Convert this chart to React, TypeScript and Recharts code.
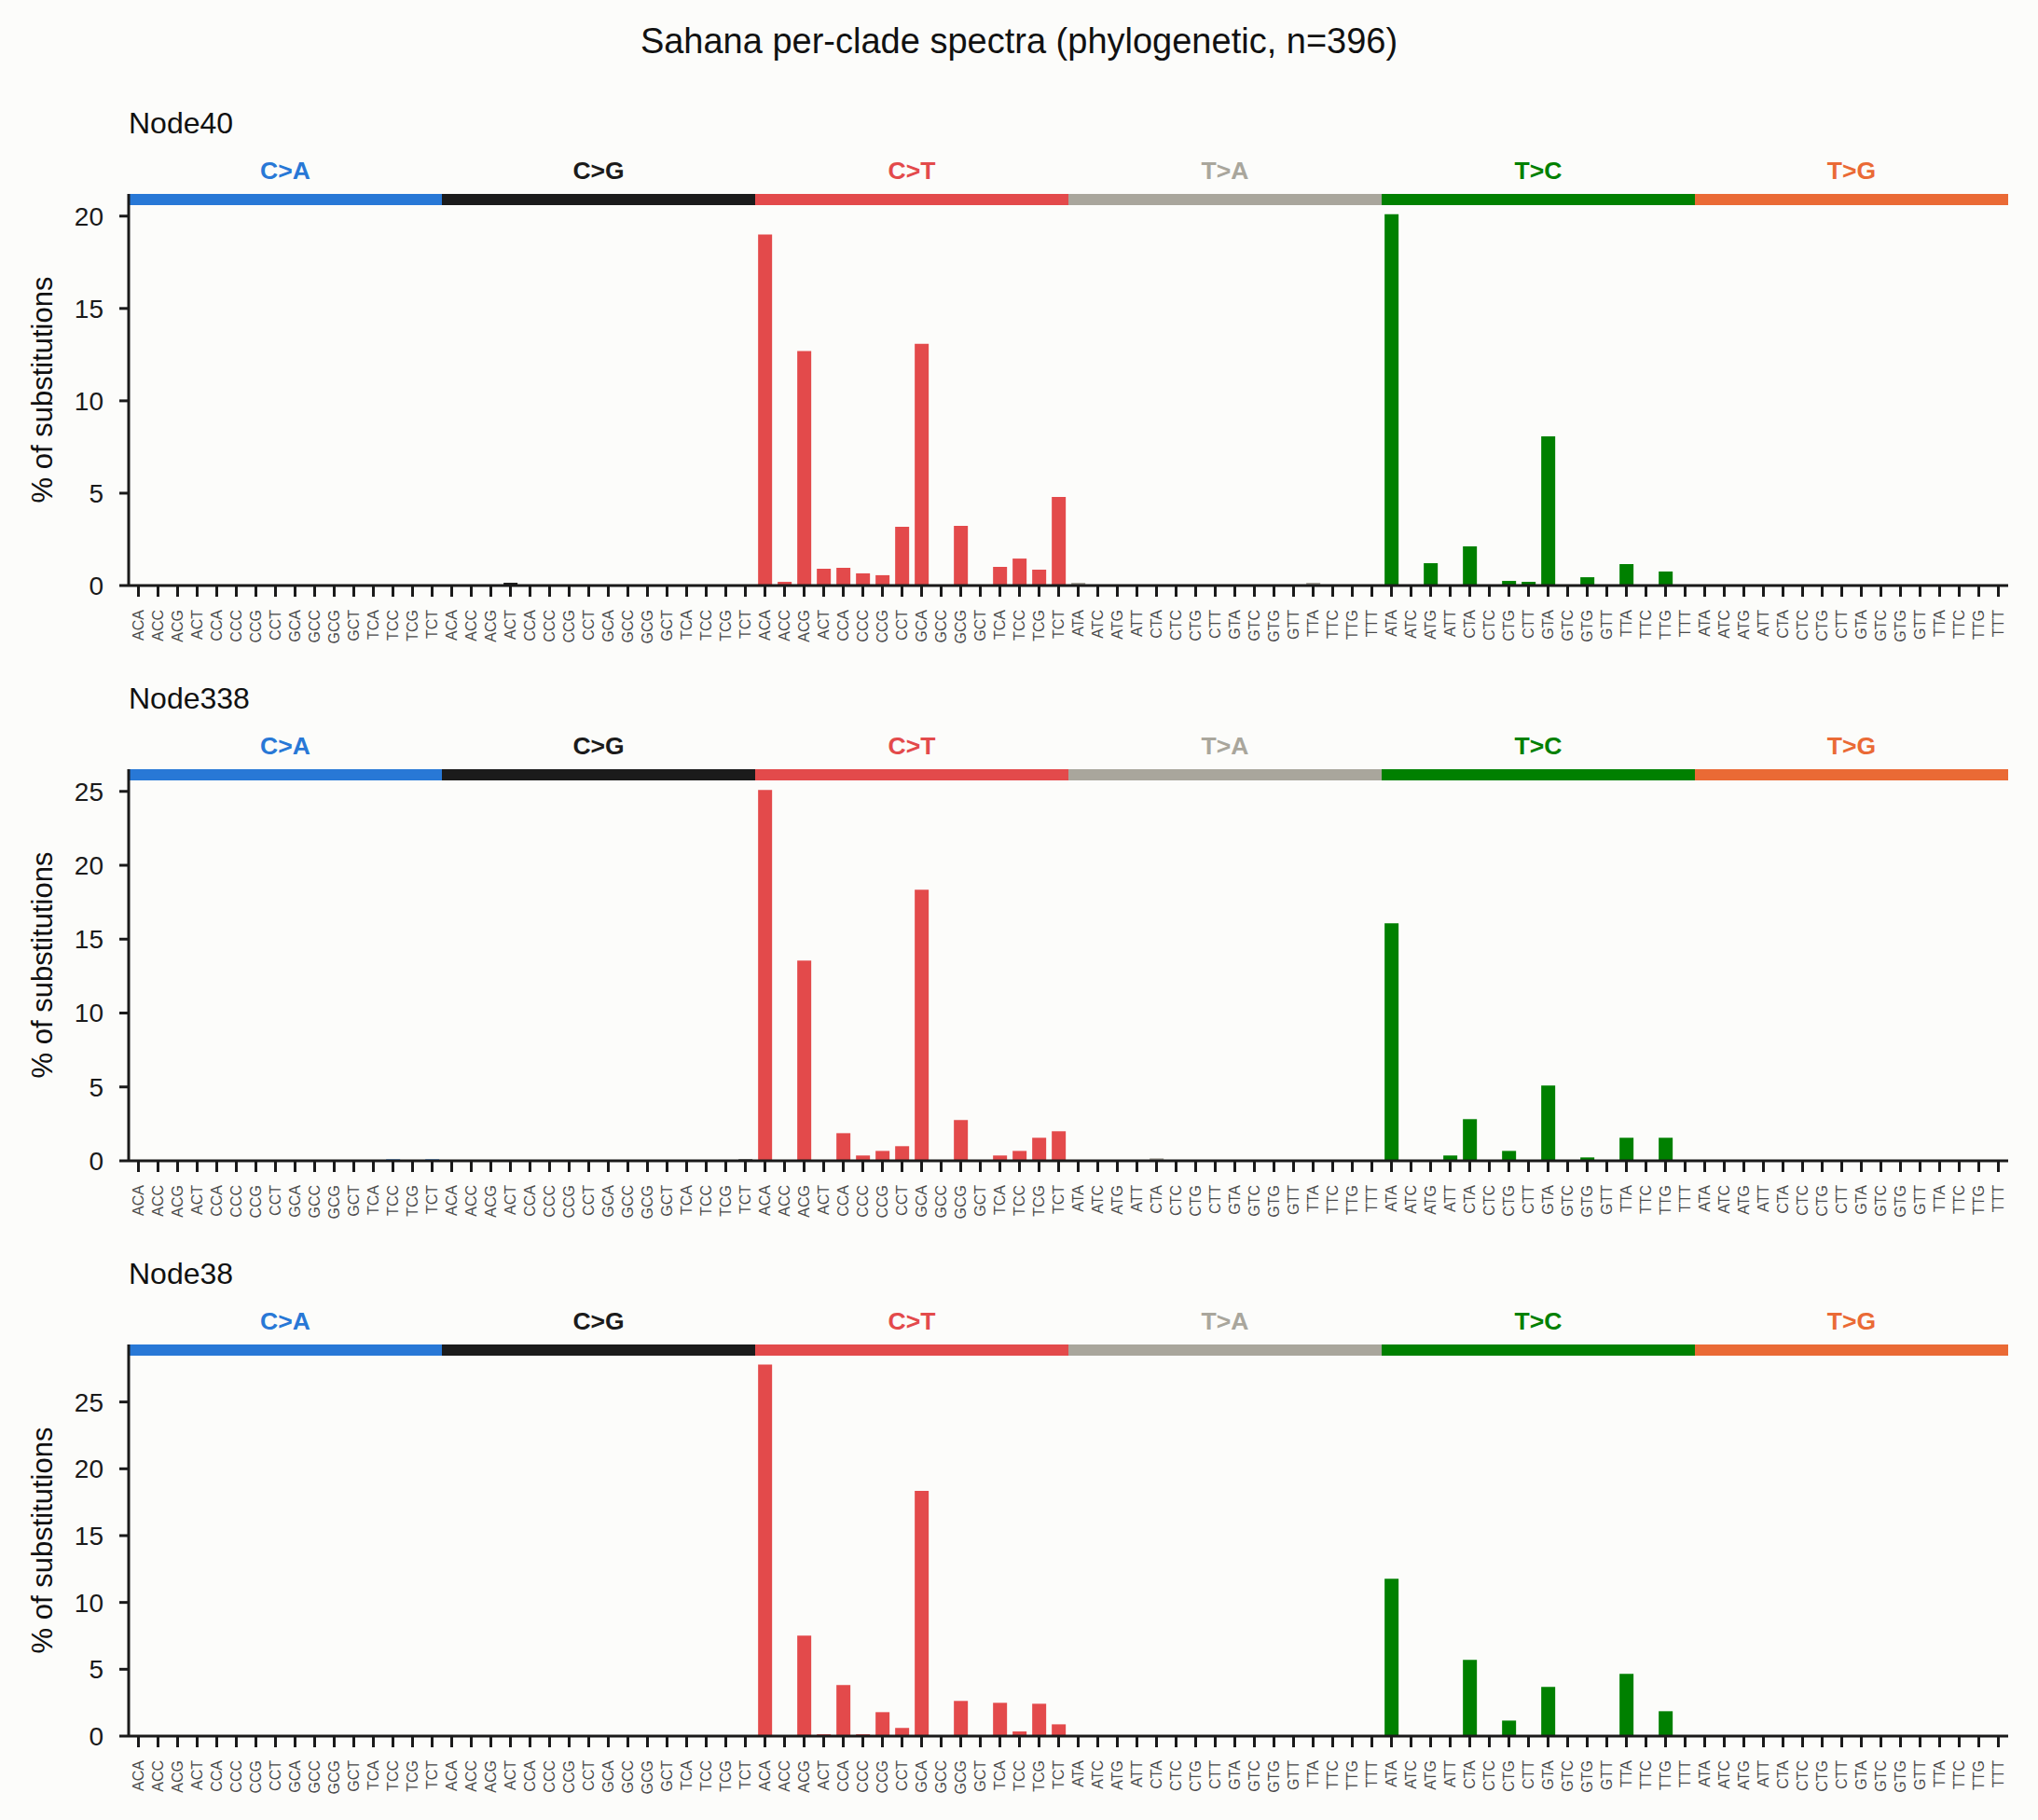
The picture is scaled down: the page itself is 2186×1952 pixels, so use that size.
import React from 'react';
import { BarChart, Bar, XAxis, YAxis, Cell, ReferenceArea } from 'recharts';

const FONT = '"Liberation Sans", Arial, sans-serif';
const INK = '#1a1a1a';

const MUT_TYPES = ['C>A', 'C>G', 'C>T', 'T>A', 'T>C', 'T>G'];
const TYPE_COLORS = ['#2878d6', '#1b1b1b', '#e34a4b', '#a9a69c', '#008000', '#ea6a35'];

const C_CONTEXTS = ['ACA', 'ACC', 'ACG', 'ACT', 'CCA', 'CCC', 'CCG', 'CCT', 'GCA', 'GCC', 'GCG', 'GCT', 'TCA', 'TCC', 'TCG', 'TCT'];
const T_CONTEXTS = ['ATA', 'ATC', 'ATG', 'ATT', 'CTA', 'CTC', 'CTG', 'CTT', 'GTA', 'GTC', 'GTG', 'GTT', 'TTA', 'TTC', 'TTG', 'TTT'];

// % of substitutions, 16 contexts per type in the order C>A, C>G, C>T, T>A, T>C, T>G
const NODE40 = [
  0, 0, 0, 0, 0, 0, 0, 0, 0, 0, 0, 0, 0, 0, 0, 0,
  0, 0, 0, 0.15, 0, 0, 0, 0, 0, 0, 0, 0, 0, 0, 0, 0,
  19.0, 0.2, 12.7, 0.91, 0.96, 0.66, 0.56, 3.18, 13.08, 0, 3.23, 0.05, 1.01, 1.46, 0.86, 4.8,
  0.15, 0, 0, 0, 0.05, 0, 0, 0, 0, 0, 0, 0, 0.15, 0, 0, 0,
  20.1, 0, 1.21, 0.05, 2.12, 0, 0.25, 0.2, 8.08, 0, 0.45, 0, 1.16, 0, 0.76, 0,
  0.05, 0, 0, 0, 0, 0, 0, 0, 0, 0, 0, 0, 0, 0, 0, 0,
];

const NODE338 = [
  0, 0, 0, 0, 0, 0, 0, 0, 0, 0, 0, 0, 0, 0.1, 0, 0.1,
  0, 0, 0, 0, 0, 0, 0, 0, 0, 0, 0, 0, 0, 0, 0, 0.1,
  25.1, 0, 13.55, 0.05, 1.87, 0.36, 0.67, 0.99, 18.35, 0, 2.76, 0.05, 0.36, 0.67, 1.56, 2.0,
  0, 0, 0, 0.04, 0.17, 0, 0, 0.04, 0.04, 0, 0, 0, 0, 0, 0, 0,
  16.08, 0.04, 0.04, 0.36, 2.82, 0.04, 0.67, 0.04, 5.09, 0, 0.23, 0, 1.56, 0.04, 1.56, 0,
  0.04, 0, 0, 0, 0, 0, 0, 0, 0, 0, 0.05, 0, 0, 0, 0, 0,
];

const NODE38 = [
  0, 0, 0, 0, 0, 0, 0, 0, 0, 0, 0, 0, 0, 0, 0, 0,
  0, 0, 0, 0, 0, 0, 0, 0, 0, 0, 0, 0, 0, 0, 0, 0,
  27.8, 0.07, 7.52, 0.14, 3.82, 0.14, 1.79, 0.61, 18.34, 0, 2.63, 0.07, 2.49, 0.35, 2.42, 0.88,
  0, 0, 0, 0, 0, 0, 0, 0, 0, 0, 0, 0, 0, 0, 0, 0,
  11.78, 0, 0.07, 0.07, 5.7, 0, 1.16, 0, 3.68, 0, 0.07, 0, 4.66, 0, 1.86, 0,
  0, 0, 0, 0, 0, 0, 0, 0, 0, 0, 0, 0, 0, 0, 0, 0,
];

const PANEL_NAMES = ['Node40', 'Node338', 'Node38'];
const PANEL_VALUES = [NODE40, NODE338, NODE38];
const PANEL_YMAX = [21.2, 26.5, 29.3];
const PANEL_TICKS = [[0, 5, 10, 15, 20], [0, 5, 10, 15, 20, 25], [0, 5, 10, 15, 20, 25]];

const PANEL_STEP = 617;
const PLOT_TOP = 208;
const PLOT_H = 420;

// one row per channel; key is unique, the tick shows only the trinucleotide
const buildRows = (values: number[]) =>
  MUT_TYPES.flatMap((type, t) =>
    (type[0] === 'C' ? C_CONTEXTS : T_CONTEXTS).map((ctx, i) => ({
      key: `${type}:${ctx}`,
      type: t,
      value: values[t * 16 + i],
    }))
  );

const ContextTick = (props: any) => {
  const { x, y, payload } = props;
  const label = String(payload.value).split(':')[1];
  return (
    <g transform={`translate(${x},${y})`}>
      <text
        transform="rotate(-90)"
        textAnchor="end"
        dy="0.36em"
        fontSize={16}
        fontFamily={FONT}
        fill="#4a4a4a"
      >
        {label}
      </text>
    </g>
  );
};

const stripShape = (color: string, label: string) => (props: any) => {
  const { x, y, width } = props;
  return (
    <g>
      <rect x={x} y={y} width={width} height={12} fill={color} />
      <text
        x={x + width / 2}
        y={y - 16}
        textAnchor="middle"
        fontSize={26.5}
        fontWeight="bold"
        fontFamily={FONT}
        fill={color}
      >
        {label}
      </text>
    </g>
  );
};

const SpectrumPanel = ({ values, yMax, ticks }: { values: number[]; yMax: number; ticks: number[] }) => {
  const rows = buildRows(values);
  return (
    <BarChart
      width={2186}
      height={720}
      data={rows}
      margin={{ top: PLOT_TOP, right: 32, bottom: 0, left: 0 }}
      barCategoryGap="15%"
    >
      <XAxis
        dataKey="key"
        interval={0}
        height={720 - PLOT_TOP - PLOT_H}
        tickSize={12}
        tickMargin={14}
        tick={ContextTick}
        axisLine={{ stroke: INK, strokeWidth: 3 }}
        tickLine={{ stroke: INK, strokeWidth: 3 }}
      />
      <YAxis
        type="number"
        domain={[0, yMax]}
        ticks={ticks}
        allowDataOverflow
        width={138}
        tickSize={10}
        tickMargin={17}
        tick={{ fontSize: 28, fill: INK, fontFamily: FONT }}
        axisLine={{ stroke: INK, strokeWidth: 3 }}
        tickLine={{ stroke: INK, strokeWidth: 3 }}
      />
      {MUT_TYPES.map((type, t) => {
        const ctx = type[0] === 'C' ? C_CONTEXTS : T_CONTEXTS;
        return (
          <ReferenceArea
            key={type}
            x1={`${type}:${ctx[0]}`}
            x2={`${type}:${ctx[15]}`}
            y1={0}
            y2={yMax}
            shape={stripShape(TYPE_COLORS[t], type)}
          />
        );
      })}
      <Bar dataKey="value" isAnimationActive={false}>
        {rows.map((r) => (
          <Cell key={r.key} fill={TYPE_COLORS[r.type]} />
        ))}
      </Bar>
    </BarChart>
  );
};

export default function App() {
  return (
    <div
      style={{
        position: 'absolute',
        left: 0,
        top: 0,
        width: 2186,
        height: 1952,
        background: '#fcfcfa',
        overflow: 'hidden',
      }}
    >
      <svg width={2186} height={1952} style={{ position: 'absolute', left: 0, top: 0 }}>
        <text x={1093} y={57} textAnchor="middle" fontSize={38} fontFamily={FONT} fill="#111">
          Sahana per-clade spectra (phylogenetic, n=396)
        </text>
        {PANEL_NAMES.map((name, i) => (
          <g key={name}>
            <text x={138} y={143 + i * PANEL_STEP} fontSize={32} fontFamily={FONT} fill="#111">
              {name}
            </text>
            <text
              x={45}
              y={PLOT_TOP + PLOT_H / 2 + i * PANEL_STEP}
              transform={`rotate(-90, 45, ${PLOT_TOP + PLOT_H / 2 + i * PANEL_STEP})`}
              textAnchor="middle"
              dy="0.36em"
              fontSize={31}
              fontFamily={FONT}
              fill="#111"
            >
              % of substitutions
            </text>
          </g>
        ))}
      </svg>
      {PANEL_NAMES.map((name, i) => (
        <div key={name} style={{ position: 'absolute', left: 0, top: i * PANEL_STEP }}>
          <SpectrumPanel values={PANEL_VALUES[i]} yMax={PANEL_YMAX[i]} ticks={PANEL_TICKS[i]} />
        </div>
      ))}
    </div>
  );
}
